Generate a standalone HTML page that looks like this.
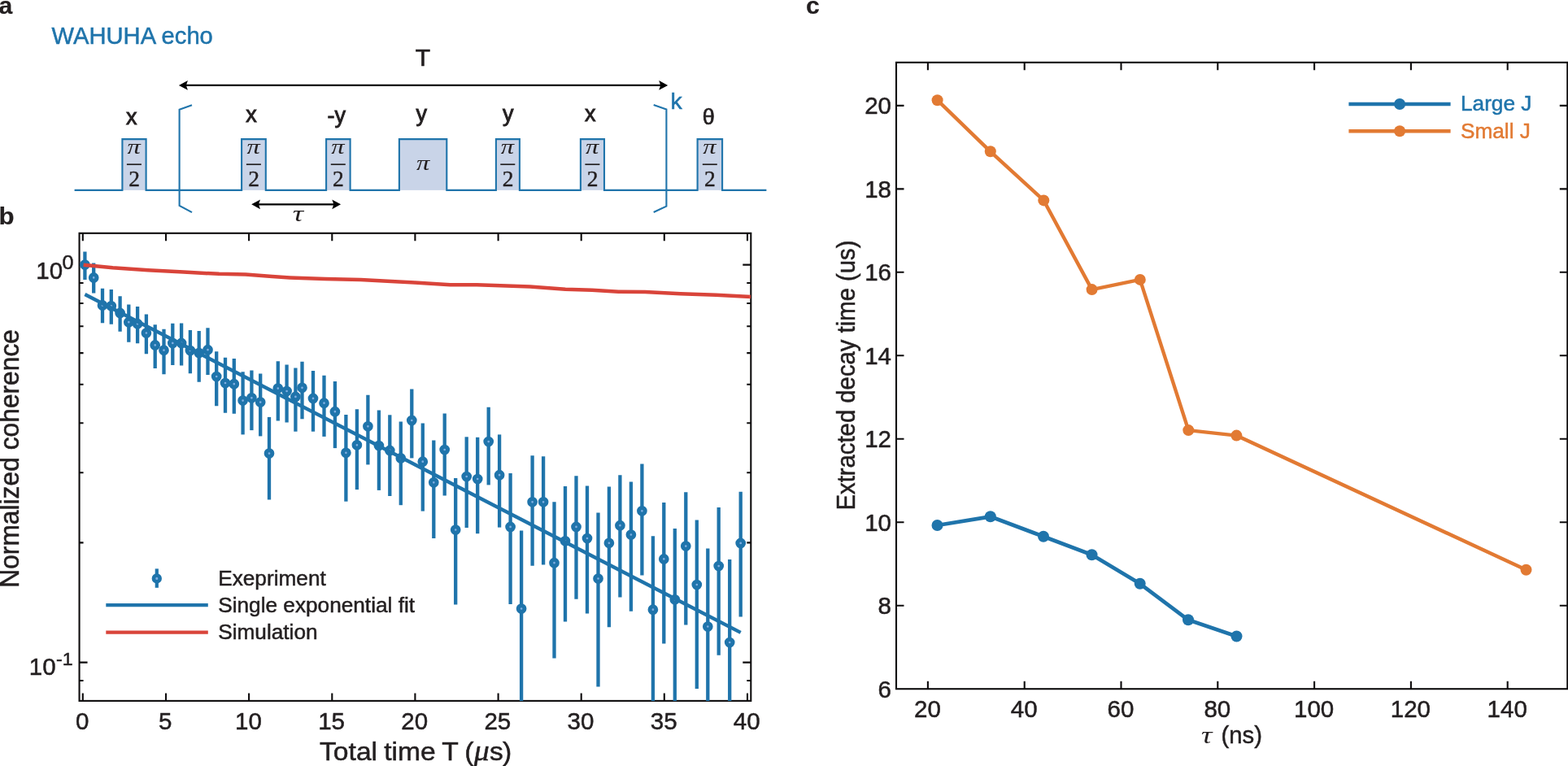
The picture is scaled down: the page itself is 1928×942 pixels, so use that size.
<!DOCTYPE html>
<html lang="en"><head><meta charset="utf-8"><title>WAHUHA echo</title>
<style>
html,body{margin:0;padding:0;background:#fff;}
body{width:1928px;height:942px;overflow:hidden;font-family:"Liberation Sans",Arial,Helvetica,sans-serif;}
svg{display:block;}
text{white-space:pre;}
</style></head><body>
<svg width="1928" height="942" viewBox="0 0 1928 942">
<rect width="1928" height="942" fill="#fff"/>
<g id="panel-a">
<text transform="translate(-1.60 16.50) scale(1.0400 1.0000)" font-family="Liberation Sans, Arial, Helvetica, sans-serif" font-size="29" font-weight="bold" fill="#231f20" stroke="#231f20" stroke-width="0.2" >a</text>
<text transform="translate(63.60 54.00) scale(1.0200 1.0000)" font-family="Liberation Sans, Arial, Helvetica, sans-serif" font-size="28.6" fill="#1f74ab" stroke="#1f74ab" stroke-width="0.5" >WAHUHA echo</text>
<rect x="150.4" y="171.1" width="29.2" height="62.8" fill="#c9d4e8"/>
<rect x="297.1" y="171.1" width="29.7" height="62.8" fill="#c9d4e8"/>
<rect x="401.1" y="171.1" width="29.5" height="62.8" fill="#c9d4e8"/>
<rect x="490.9" y="171.1" width="58.4" height="62.8" fill="#c9d4e8"/>
<rect x="609.9" y="171.1" width="29.0" height="62.8" fill="#c9d4e8"/>
<rect x="713.9" y="171.1" width="29.1" height="62.8" fill="#c9d4e8"/>
<rect x="857.6" y="171.1" width="30.5" height="62.8" fill="#c9d4e8"/>
<path d="M91.6 233.9 H150.4 V171.1 H179.6 V233.9 H297.1 V171.1 H326.8 V233.9 H401.1 V171.1 H430.6 V233.9 H490.9 V171.1 H549.3 V233.9 H609.9 V171.1 H638.9 V233.9 H713.9 V171.1 H743.0 V233.9 H857.6 V171.1 H888.1 V233.9 H942.4" fill="none" stroke="#1f74ab" stroke-width="2.1" stroke-linejoin="miter"/>
<path d="M236 129.2 L220.6 134.8 V252.9 L236 261.1" fill="none" stroke="#1f74ab" stroke-width="2.1"/>
<path d="M803.7 128.9 L819.4 134.6 V253.6 L803.7 261" fill="none" stroke="#1f74ab" stroke-width="2.1"/>
<text transform="translate(824.60 133.80)" font-family="Liberation Sans, Arial, Helvetica, sans-serif" font-size="28.5" fill="#1f74ab" stroke="#1f74ab" stroke-width="0.5" >k</text>
<text transform="translate(164.60 189.00) scale(1.2600 1.0000)" font-family="Liberation Serif, Times New Roman, serif" font-size="25.8" text-anchor="middle" font-style="italic" fill="#231f20" stroke="#231f20" stroke-width="0" >π</text>
<line x1="155.9" y1="202.2" x2="173.9" y2="202.2" stroke="#231f20" stroke-width="1.7"/>
<text transform="translate(165.10 229.40)" font-family="Liberation Serif, Times New Roman, serif" font-size="27.5" text-anchor="middle" fill="#231f20" stroke="#231f20" stroke-width="0.45" >2</text>
<text transform="translate(311.55 189.00) scale(1.2600 1.0000)" font-family="Liberation Serif, Times New Roman, serif" font-size="25.8" text-anchor="middle" font-style="italic" fill="#231f20" stroke="#231f20" stroke-width="0" >π</text>
<line x1="302.9" y1="202.2" x2="320.9" y2="202.2" stroke="#231f20" stroke-width="1.7"/>
<text transform="translate(312.05 229.40)" font-family="Liberation Serif, Times New Roman, serif" font-size="27.5" text-anchor="middle" fill="#231f20" stroke="#231f20" stroke-width="0.45" >2</text>
<text transform="translate(415.45 189.00) scale(1.2600 1.0000)" font-family="Liberation Serif, Times New Roman, serif" font-size="25.8" text-anchor="middle" font-style="italic" fill="#231f20" stroke="#231f20" stroke-width="0" >π</text>
<line x1="406.8" y1="202.2" x2="424.8" y2="202.2" stroke="#231f20" stroke-width="1.7"/>
<text transform="translate(415.95 229.40)" font-family="Liberation Serif, Times New Roman, serif" font-size="27.5" text-anchor="middle" fill="#231f20" stroke="#231f20" stroke-width="0.45" >2</text>
<text transform="translate(520.10 208.70) scale(1.2600 1.0000)" font-family="Liberation Serif, Times New Roman, serif" font-size="25.8" text-anchor="middle" font-style="italic" fill="#231f20" stroke="#231f20" stroke-width="0" >π</text>
<text transform="translate(624.00 189.00) scale(1.2600 1.0000)" font-family="Liberation Serif, Times New Roman, serif" font-size="25.8" text-anchor="middle" font-style="italic" fill="#231f20" stroke="#231f20" stroke-width="0" >π</text>
<line x1="615.3" y1="202.2" x2="633.3" y2="202.2" stroke="#231f20" stroke-width="1.7"/>
<text transform="translate(624.50 229.40)" font-family="Liberation Serif, Times New Roman, serif" font-size="27.5" text-anchor="middle" fill="#231f20" stroke="#231f20" stroke-width="0.45" >2</text>
<text transform="translate(728.05 189.00) scale(1.2600 1.0000)" font-family="Liberation Serif, Times New Roman, serif" font-size="25.8" text-anchor="middle" font-style="italic" fill="#231f20" stroke="#231f20" stroke-width="0" >π</text>
<line x1="719.4" y1="202.2" x2="737.4" y2="202.2" stroke="#231f20" stroke-width="1.7"/>
<text transform="translate(728.55 229.40)" font-family="Liberation Serif, Times New Roman, serif" font-size="27.5" text-anchor="middle" fill="#231f20" stroke="#231f20" stroke-width="0.45" >2</text>
<text transform="translate(872.45 189.00) scale(1.2600 1.0000)" font-family="Liberation Serif, Times New Roman, serif" font-size="25.8" text-anchor="middle" font-style="italic" fill="#231f20" stroke="#231f20" stroke-width="0" >π</text>
<line x1="863.8" y1="202.2" x2="881.8" y2="202.2" stroke="#231f20" stroke-width="1.7"/>
<text transform="translate(872.95 229.40)" font-family="Liberation Serif, Times New Roman, serif" font-size="27.5" text-anchor="middle" fill="#231f20" stroke="#231f20" stroke-width="0.45" >2</text>
<text transform="translate(161.80 153.00)" font-family="Liberation Sans, Arial, Helvetica, sans-serif" font-size="27.0" text-anchor="middle" fill="#231f20" stroke="#231f20" stroke-width="0.9" >x</text>
<text transform="translate(309.00 149.80)" font-family="Liberation Sans, Arial, Helvetica, sans-serif" font-size="27.0" text-anchor="middle" fill="#231f20" stroke="#231f20" stroke-width="0.9" >x</text>
<text transform="translate(413.80 150.50)" font-family="Liberation Sans, Arial, Helvetica, sans-serif" font-size="27.0" text-anchor="middle" fill="#231f20" stroke="#231f20" stroke-width="0.9" >-y</text>
<text transform="translate(518.30 148.50)" font-family="Liberation Sans, Arial, Helvetica, sans-serif" font-size="27.0" text-anchor="middle" fill="#231f20" stroke="#231f20" stroke-width="0.9" >y</text>
<text transform="translate(624.80 148.50)" font-family="Liberation Sans, Arial, Helvetica, sans-serif" font-size="27.0" text-anchor="middle" fill="#231f20" stroke="#231f20" stroke-width="0.9" >y</text>
<text transform="translate(725.80 148.80)" font-family="Liberation Sans, Arial, Helvetica, sans-serif" font-size="27.0" text-anchor="middle" fill="#231f20" stroke="#231f20" stroke-width="0.9" >x</text>
<text transform="translate(871.30 152.90)" font-family="Liberation Sans, Arial, Helvetica, sans-serif" font-size="27" text-anchor="middle" fill="#231f20" stroke="#231f20" stroke-width="0.7" >θ</text>
<text transform="translate(519.90 80.80)" font-family="Liberation Sans, Arial, Helvetica, sans-serif" font-size="30" text-anchor="middle" fill="#231f20" stroke="#231f20" stroke-width="0.7" >T</text>
<line x1="225.9" y1="104.9" x2="815.2" y2="104.9" stroke="#000" stroke-width="2.3"/>
<path d="M219.9 104.9 L230.9 99.0 L228.9 104.9 L230.9 110.80000000000001 Z" fill="#000"/>
<path d="M821.2 104.9 L810.2 99.0 L812.2 104.9 L810.2 110.80000000000001 Z" fill="#000"/>
<line x1="315.2" y1="251.3" x2="413.1" y2="251.3" stroke="#000" stroke-width="2.3"/>
<path d="M309.2 251.3 L320.0 245.4 L318.0 251.3 L320.0 257.2 Z" fill="#000"/>
<path d="M419.1 251.3 L408.3 245.4 L410.3 251.3 L408.3 257.2 Z" fill="#000"/>
<text transform="translate(366.40 271.80) scale(1.3500 1.0000)" font-family="Liberation Serif, Times New Roman, serif" font-size="27.5" text-anchor="middle" font-style="italic" fill="#231f20" stroke="#231f20" stroke-width="0" >τ</text>
</g>
<g id="panel-b">
<text transform="translate(-1.60 275.90) scale(1.0600 1.0000)" font-family="Liberation Sans, Arial, Helvetica, sans-serif" font-size="29.5" font-weight="bold" fill="#231f20" stroke="#231f20" stroke-width="0.2" >b</text>
<rect x="97.55" y="286.8" width="825.75" height="575.0999999999999" fill="none" stroke="#0e0c0d" stroke-width="2.1"/>
<path d="M101.8 861.9 v-9.5 M101.8 286.8 v9.5 M204.0 861.9 v-9.5 M204.0 286.8 v9.5 M306.1 861.9 v-9.5 M306.1 286.8 v9.5 M408.3 861.9 v-9.5 M408.3 286.8 v9.5 M510.4 861.9 v-9.5 M510.4 286.8 v9.5 M612.6 861.9 v-9.5 M612.6 286.8 v9.5 M714.7 861.9 v-9.5 M714.7 286.8 v9.5 M816.8 861.9 v-9.5 M816.8 286.8 v9.5 M919.0 861.9 v-9.5 M919.0 286.8 v9.5 M97.55 325.6 h10 M923.3 325.6 h-10 M97.55 814.6 h10 M923.3 814.6 h-10 M97.55 667.4 h5 M923.3 667.4 h-5 M97.55 581.3 h5 M923.3 581.3 h-5 M97.55 520.2 h5 M923.3 520.2 h-5 M97.55 472.8 h5 M923.3 472.8 h-5 M97.55 434.1 h5 M923.3 434.1 h-5 M97.55 401.3 h5 M923.3 401.3 h-5 M97.55 373.0 h5 M923.3 373.0 h-5 M97.55 348.0 h5 M923.3 348.0 h-5 M97.55 837.0 h5 M923.3 837.0 h-5" stroke="#0e0c0d" stroke-width="2.1" fill="none"/>
<clipPath id="clipb"><rect x="97.55" y="286.8" width="825.75" height="575.0999999999999"/></clipPath>
<g clip-path="url(#clipb)">
<line x1="104.4" y1="309.5" x2="104.4" y2="343.9" stroke="#1f74ab" stroke-width="4.3"/>
<line x1="115.2" y1="323.5" x2="115.2" y2="360.5" stroke="#1f74ab" stroke-width="4.3"/>
<line x1="126.0" y1="354.7" x2="126.0" y2="397.3" stroke="#1f74ab" stroke-width="4.3"/>
<line x1="136.8" y1="356.0" x2="136.8" y2="398.8" stroke="#1f74ab" stroke-width="4.3"/>
<line x1="147.6" y1="364.3" x2="147.6" y2="407.8" stroke="#1f74ab" stroke-width="4.3"/>
<line x1="158.3" y1="374.6" x2="158.3" y2="420.7" stroke="#1f74ab" stroke-width="4.3"/>
<line x1="169.1" y1="377.1" x2="169.1" y2="422.2" stroke="#1f74ab" stroke-width="4.3"/>
<line x1="179.9" y1="386.6" x2="179.9" y2="435.2" stroke="#1f74ab" stroke-width="4.3"/>
<line x1="190.7" y1="399.2" x2="190.7" y2="453.0" stroke="#1f74ab" stroke-width="4.3"/>
<line x1="201.5" y1="404.8" x2="201.5" y2="460.2" stroke="#1f74ab" stroke-width="4.3"/>
<line x1="212.3" y1="397.8" x2="212.3" y2="449.1" stroke="#1f74ab" stroke-width="4.3"/>
<line x1="223.1" y1="397.5" x2="223.1" y2="449.5" stroke="#1f74ab" stroke-width="4.3"/>
<line x1="233.9" y1="406.1" x2="233.9" y2="459.2" stroke="#1f74ab" stroke-width="4.3"/>
<line x1="244.7" y1="406.9" x2="244.7" y2="469.7" stroke="#1f74ab" stroke-width="4.3"/>
<line x1="255.5" y1="403.3" x2="255.5" y2="461.0" stroke="#1f74ab" stroke-width="4.3"/>
<line x1="266.2" y1="432.3" x2="266.2" y2="499.2" stroke="#1f74ab" stroke-width="4.3"/>
<line x1="277.0" y1="439.8" x2="277.0" y2="507.8" stroke="#1f74ab" stroke-width="4.3"/>
<line x1="287.8" y1="441.1" x2="287.8" y2="508.7" stroke="#1f74ab" stroke-width="4.3"/>
<line x1="298.6" y1="457.2" x2="298.6" y2="534.4" stroke="#1f74ab" stroke-width="4.3"/>
<line x1="309.4" y1="455.6" x2="309.4" y2="529.1" stroke="#1f74ab" stroke-width="4.3"/>
<line x1="320.2" y1="459.4" x2="320.2" y2="536.4" stroke="#1f74ab" stroke-width="4.3"/>
<line x1="331.0" y1="512.9" x2="331.0" y2="614.5" stroke="#1f74ab" stroke-width="4.3"/>
<line x1="341.8" y1="444.3" x2="341.8" y2="517.5" stroke="#1f74ab" stroke-width="4.3"/>
<line x1="352.6" y1="448.4" x2="352.6" y2="519.5" stroke="#1f74ab" stroke-width="4.3"/>
<line x1="363.4" y1="452.4" x2="363.4" y2="530.7" stroke="#1f74ab" stroke-width="4.3"/>
<line x1="371.5" y1="444.8" x2="371.5" y2="515.3" stroke="#1f74ab" stroke-width="4.3"/>
<line x1="385.0" y1="456.1" x2="385.0" y2="530.7" stroke="#1f74ab" stroke-width="4.3"/>
<line x1="398.5" y1="461.7" x2="398.5" y2="536.9" stroke="#1f74ab" stroke-width="4.3"/>
<line x1="411.9" y1="469.0" x2="411.9" y2="551.1" stroke="#1f74ab" stroke-width="4.3"/>
<line x1="425.4" y1="510.0" x2="425.4" y2="616.7" stroke="#1f74ab" stroke-width="4.3"/>
<line x1="438.9" y1="503.3" x2="438.9" y2="602.1" stroke="#1f74ab" stroke-width="4.3"/>
<line x1="452.4" y1="485.8" x2="452.4" y2="571.4" stroke="#1f74ab" stroke-width="4.3"/>
<line x1="465.9" y1="504.5" x2="465.9" y2="602.9" stroke="#1f74ab" stroke-width="4.3"/>
<line x1="479.3" y1="510.3" x2="479.3" y2="610.0" stroke="#1f74ab" stroke-width="4.3"/>
<line x1="492.8" y1="518.5" x2="492.8" y2="621.2" stroke="#1f74ab" stroke-width="4.3"/>
<line x1="506.3" y1="478.6" x2="506.3" y2="563.4" stroke="#1f74ab" stroke-width="4.3"/>
<line x1="519.8" y1="520.5" x2="519.8" y2="628.6" stroke="#1f74ab" stroke-width="4.3"/>
<line x1="533.3" y1="541.5" x2="533.3" y2="662.0" stroke="#1f74ab" stroke-width="4.3"/>
<line x1="546.7" y1="508.6" x2="546.7" y2="609.5" stroke="#1f74ab" stroke-width="4.3"/>
<line x1="560.2" y1="588.0" x2="560.2" y2="743.5" stroke="#1f74ab" stroke-width="4.3"/>
<line x1="573.7" y1="537.3" x2="573.7" y2="649.0" stroke="#1f74ab" stroke-width="4.3"/>
<line x1="587.2" y1="537.8" x2="587.2" y2="656.2" stroke="#1f74ab" stroke-width="4.3"/>
<line x1="600.7" y1="500.8" x2="600.7" y2="596.4" stroke="#1f74ab" stroke-width="4.3"/>
<line x1="614.1" y1="534.4" x2="614.1" y2="648.6" stroke="#1f74ab" stroke-width="4.3"/>
<line x1="627.6" y1="582.0" x2="627.6" y2="743.1" stroke="#1f74ab" stroke-width="4.3"/>
<line x1="641.1" y1="652.4" x2="641.1" y2="928.9" stroke="#1f74ab" stroke-width="4.3"/>
<line x1="654.6" y1="560.2" x2="654.6" y2="695.8" stroke="#1f74ab" stroke-width="4.3"/>
<line x1="668.1" y1="561.2" x2="668.1" y2="694.4" stroke="#1f74ab" stroke-width="4.3"/>
<line x1="681.5" y1="617.2" x2="681.5" y2="809.5" stroke="#1f74ab" stroke-width="4.3"/>
<line x1="695.0" y1="598.1" x2="695.0" y2="764.6" stroke="#1f74ab" stroke-width="4.3"/>
<line x1="708.5" y1="585.3" x2="708.5" y2="736.8" stroke="#1f74ab" stroke-width="4.3"/>
<line x1="722.0" y1="597.6" x2="722.0" y2="754.4" stroke="#1f74ab" stroke-width="4.3"/>
<line x1="735.5" y1="630.5" x2="735.5" y2="844.6" stroke="#1f74ab" stroke-width="4.3"/>
<line x1="748.9" y1="598.4" x2="748.9" y2="771.3" stroke="#1f74ab" stroke-width="4.3"/>
<line x1="762.4" y1="584.3" x2="762.4" y2="734.4" stroke="#1f74ab" stroke-width="4.3"/>
<line x1="775.9" y1="592.4" x2="775.9" y2="751.7" stroke="#1f74ab" stroke-width="4.3"/>
<line x1="789.4" y1="570.4" x2="789.4" y2="707.4" stroke="#1f74ab" stroke-width="4.3"/>
<line x1="802.9" y1="659.2" x2="802.9" y2="910.7" stroke="#1f74ab" stroke-width="4.3"/>
<line x1="816.3" y1="618.0" x2="816.3" y2="791.6" stroke="#1f74ab" stroke-width="4.3"/>
<line x1="829.8" y1="650.1" x2="829.8" y2="887.8" stroke="#1f74ab" stroke-width="4.3"/>
<line x1="843.3" y1="605.2" x2="843.3" y2="768.5" stroke="#1f74ab" stroke-width="4.3"/>
<line x1="856.8" y1="639.6" x2="856.8" y2="847.1" stroke="#1f74ab" stroke-width="4.3"/>
<line x1="870.3" y1="674.4" x2="870.3" y2="950.9" stroke="#1f74ab" stroke-width="4.3"/>
<line x1="883.7" y1="624.0" x2="883.7" y2="805.7" stroke="#1f74ab" stroke-width="4.3"/>
<line x1="897.2" y1="688.0" x2="897.2" y2="993.6" stroke="#1f74ab" stroke-width="4.3"/>
<line x1="910.7" y1="604.8" x2="910.7" y2="758.5" stroke="#1f74ab" stroke-width="4.3"/>
<circle cx="104.4" cy="325.6" r="3.85" fill="#7faee2" stroke="#1f74ab" stroke-width="5.0"/>
<circle cx="115.2" cy="341.4" r="3.85" fill="#7faee2" stroke="#1f74ab" stroke-width="5.0"/>
<circle cx="126.0" cy="375.4" r="3.85" fill="#7faee2" stroke="#1f74ab" stroke-width="5.0"/>
<circle cx="136.8" cy="376.3" r="3.85" fill="#7faee2" stroke="#1f74ab" stroke-width="5.0"/>
<circle cx="147.6" cy="384.9" r="3.85" fill="#7faee2" stroke="#1f74ab" stroke-width="5.0"/>
<circle cx="158.3" cy="396.2" r="3.85" fill="#7faee2" stroke="#1f74ab" stroke-width="5.0"/>
<circle cx="169.1" cy="398.2" r="3.85" fill="#7faee2" stroke="#1f74ab" stroke-width="5.0"/>
<circle cx="179.9" cy="409.5" r="3.85" fill="#7faee2" stroke="#1f74ab" stroke-width="5.0"/>
<circle cx="190.7" cy="424.4" r="3.85" fill="#7faee2" stroke="#1f74ab" stroke-width="5.0"/>
<circle cx="201.5" cy="430.7" r="3.85" fill="#7faee2" stroke="#1f74ab" stroke-width="5.0"/>
<circle cx="212.3" cy="421.9" r="3.85" fill="#7faee2" stroke="#1f74ab" stroke-width="5.0"/>
<circle cx="223.1" cy="421.9" r="3.85" fill="#7faee2" stroke="#1f74ab" stroke-width="5.0"/>
<circle cx="233.9" cy="431.0" r="3.85" fill="#7faee2" stroke="#1f74ab" stroke-width="5.0"/>
<circle cx="244.7" cy="434.0" r="3.85" fill="#7faee2" stroke="#1f74ab" stroke-width="5.0"/>
<circle cx="255.5" cy="430.2" r="3.85" fill="#7faee2" stroke="#1f74ab" stroke-width="5.0"/>
<circle cx="266.2" cy="463.0" r="3.85" fill="#7faee2" stroke="#1f74ab" stroke-width="5.0"/>
<circle cx="277.0" cy="471.0" r="3.85" fill="#7faee2" stroke="#1f74ab" stroke-width="5.0"/>
<circle cx="287.8" cy="472.2" r="3.85" fill="#7faee2" stroke="#1f74ab" stroke-width="5.0"/>
<circle cx="298.6" cy="492.6" r="3.85" fill="#7faee2" stroke="#1f74ab" stroke-width="5.0"/>
<circle cx="309.4" cy="489.3" r="3.85" fill="#7faee2" stroke="#1f74ab" stroke-width="5.0"/>
<circle cx="320.2" cy="494.6" r="3.85" fill="#7faee2" stroke="#1f74ab" stroke-width="5.0"/>
<circle cx="331.0" cy="557.6" r="3.85" fill="#7faee2" stroke="#1f74ab" stroke-width="5.0"/>
<circle cx="341.8" cy="477.6" r="3.85" fill="#7faee2" stroke="#1f74ab" stroke-width="5.0"/>
<circle cx="352.6" cy="481.0" r="3.85" fill="#7faee2" stroke="#1f74ab" stroke-width="5.0"/>
<circle cx="363.4" cy="487.9" r="3.85" fill="#7faee2" stroke="#1f74ab" stroke-width="5.0"/>
<circle cx="371.5" cy="476.8" r="3.85" fill="#7faee2" stroke="#1f74ab" stroke-width="5.0"/>
<circle cx="385.0" cy="489.9" r="3.85" fill="#7faee2" stroke="#1f74ab" stroke-width="5.0"/>
<circle cx="398.5" cy="495.7" r="3.85" fill="#7faee2" stroke="#1f74ab" stroke-width="5.0"/>
<circle cx="411.9" cy="506.2" r="3.85" fill="#7faee2" stroke="#1f74ab" stroke-width="5.0"/>
<circle cx="425.4" cy="556.8" r="3.85" fill="#7faee2" stroke="#1f74ab" stroke-width="5.0"/>
<circle cx="438.9" cy="547.3" r="3.85" fill="#7faee2" stroke="#1f74ab" stroke-width="5.0"/>
<circle cx="452.4" cy="524.3" r="3.85" fill="#7faee2" stroke="#1f74ab" stroke-width="5.0"/>
<circle cx="465.9" cy="548.1" r="3.85" fill="#7faee2" stroke="#1f74ab" stroke-width="5.0"/>
<circle cx="479.3" cy="553.9" r="3.85" fill="#7faee2" stroke="#1f74ab" stroke-width="5.0"/>
<circle cx="492.8" cy="563.4" r="3.85" fill="#7faee2" stroke="#1f74ab" stroke-width="5.0"/>
<circle cx="506.3" cy="517.0" r="3.85" fill="#7faee2" stroke="#1f74ab" stroke-width="5.0"/>
<circle cx="519.8" cy="567.7" r="3.85" fill="#7faee2" stroke="#1f74ab" stroke-width="5.0"/>
<circle cx="533.3" cy="593.3" r="3.85" fill="#7faee2" stroke="#1f74ab" stroke-width="5.0"/>
<circle cx="546.7" cy="553.0" r="3.85" fill="#7faee2" stroke="#1f74ab" stroke-width="5.0"/>
<circle cx="560.2" cy="651.5" r="3.85" fill="#7faee2" stroke="#1f74ab" stroke-width="5.0"/>
<circle cx="573.7" cy="586.0" r="3.85" fill="#7faee2" stroke="#1f74ab" stroke-width="5.0"/>
<circle cx="587.2" cy="589.0" r="3.85" fill="#7faee2" stroke="#1f74ab" stroke-width="5.0"/>
<circle cx="600.7" cy="543.1" r="3.85" fill="#7faee2" stroke="#1f74ab" stroke-width="5.0"/>
<circle cx="614.1" cy="584.2" r="3.85" fill="#7faee2" stroke="#1f74ab" stroke-width="5.0"/>
<circle cx="627.6" cy="647.9" r="3.85" fill="#7faee2" stroke="#1f74ab" stroke-width="5.0"/>
<circle cx="641.1" cy="748.5" r="3.85" fill="#7faee2" stroke="#1f74ab" stroke-width="5.0"/>
<circle cx="654.6" cy="617.3" r="3.85" fill="#7faee2" stroke="#1f74ab" stroke-width="5.0"/>
<circle cx="668.1" cy="617.3" r="3.85" fill="#7faee2" stroke="#1f74ab" stroke-width="5.0"/>
<circle cx="681.5" cy="692.2" r="3.85" fill="#7faee2" stroke="#1f74ab" stroke-width="5.0"/>
<circle cx="695.0" cy="665.3" r="3.85" fill="#7faee2" stroke="#1f74ab" stroke-width="5.0"/>
<circle cx="708.5" cy="647.9" r="3.85" fill="#7faee2" stroke="#1f74ab" stroke-width="5.0"/>
<circle cx="722.0" cy="662.0" r="3.85" fill="#7faee2" stroke="#1f74ab" stroke-width="5.0"/>
<circle cx="735.5" cy="711.5" r="3.85" fill="#7faee2" stroke="#1f74ab" stroke-width="5.0"/>
<circle cx="748.9" cy="667.8" r="3.85" fill="#7faee2" stroke="#1f74ab" stroke-width="5.0"/>
<circle cx="762.4" cy="646.2" r="3.85" fill="#7faee2" stroke="#1f74ab" stroke-width="5.0"/>
<circle cx="775.9" cy="657.5" r="3.85" fill="#7faee2" stroke="#1f74ab" stroke-width="5.0"/>
<circle cx="789.4" cy="628.3" r="3.85" fill="#7faee2" stroke="#1f74ab" stroke-width="5.0"/>
<circle cx="802.9" cy="749.7" r="3.85" fill="#7faee2" stroke="#1f74ab" stroke-width="5.0"/>
<circle cx="816.3" cy="687.4" r="3.85" fill="#7faee2" stroke="#1f74ab" stroke-width="5.0"/>
<circle cx="829.8" cy="737.3" r="3.85" fill="#7faee2" stroke="#1f74ab" stroke-width="5.0"/>
<circle cx="843.3" cy="671.6" r="3.85" fill="#7faee2" stroke="#1f74ab" stroke-width="5.0"/>
<circle cx="856.8" cy="719.0" r="3.85" fill="#7faee2" stroke="#1f74ab" stroke-width="5.0"/>
<circle cx="870.3" cy="770.5" r="3.85" fill="#7faee2" stroke="#1f74ab" stroke-width="5.0"/>
<circle cx="883.7" cy="696.1" r="3.85" fill="#7faee2" stroke="#1f74ab" stroke-width="5.0"/>
<circle cx="897.2" cy="790.0" r="3.85" fill="#7faee2" stroke="#1f74ab" stroke-width="5.0"/>
<circle cx="910.7" cy="667.9" r="3.85" fill="#7faee2" stroke="#1f74ab" stroke-width="5.0"/>
<line x1="104.4" y1="362.0" x2="910.7" y2="777.9" stroke="#1f74ab" stroke-width="4.4"/>
<polyline points="102.6,325.7 138.6,329.2 182.1,332.2 225.7,334.6 269.3,336.8 302,337.6 334.7,340.1 356.4,341.4 400,343.1 443.6,344.1 476.3,345.7 510,347.5 553.6,350.2 586.3,350.2 651.6,352.5 695.2,355.7 727.9,356.8 760.5,358.7 793.2,358.9 836.8,361.2 880.4,362.7 923.3,364.9" fill="none" stroke="#d9443a" stroke-width="4.5" stroke-linejoin="round"/>
</g>
<text transform="translate(101.15 897.20) scale(1.0250 1.0000)" font-family="Liberation Sans, Arial, Helvetica, sans-serif" font-size="28.8" text-anchor="middle" fill="#231f20" stroke="#231f20" stroke-width="0.5" >0</text>
<text transform="translate(203.29 897.20) scale(1.0250 1.0000)" font-family="Liberation Sans, Arial, Helvetica, sans-serif" font-size="28.8" text-anchor="middle" fill="#231f20" stroke="#231f20" stroke-width="0.5" >5</text>
<text transform="translate(305.43 897.20) scale(1.0250 1.0000)" font-family="Liberation Sans, Arial, Helvetica, sans-serif" font-size="28.8" text-anchor="middle" fill="#231f20" stroke="#231f20" stroke-width="0.5" >10</text>
<text transform="translate(407.57 897.20) scale(1.0250 1.0000)" font-family="Liberation Sans, Arial, Helvetica, sans-serif" font-size="28.8" text-anchor="middle" fill="#231f20" stroke="#231f20" stroke-width="0.5" >15</text>
<text transform="translate(509.71 897.20) scale(1.0250 1.0000)" font-family="Liberation Sans, Arial, Helvetica, sans-serif" font-size="28.8" text-anchor="middle" fill="#231f20" stroke="#231f20" stroke-width="0.5" >20</text>
<text transform="translate(611.85 897.20) scale(1.0250 1.0000)" font-family="Liberation Sans, Arial, Helvetica, sans-serif" font-size="28.8" text-anchor="middle" fill="#231f20" stroke="#231f20" stroke-width="0.5" >25</text>
<text transform="translate(713.99 897.20) scale(1.0250 1.0000)" font-family="Liberation Sans, Arial, Helvetica, sans-serif" font-size="28.8" text-anchor="middle" fill="#231f20" stroke="#231f20" stroke-width="0.5" >30</text>
<text transform="translate(816.13 897.20) scale(1.0250 1.0000)" font-family="Liberation Sans, Arial, Helvetica, sans-serif" font-size="28.8" text-anchor="middle" fill="#231f20" stroke="#231f20" stroke-width="0.5" >35</text>
<text transform="translate(918.27 897.20) scale(1.0250 1.0000)" font-family="Liberation Sans, Arial, Helvetica, sans-serif" font-size="28.8" text-anchor="middle" fill="#231f20" stroke="#231f20" stroke-width="0.5" >40</text>
<text transform="translate(44.30 342.50) scale(1.0250 1.0000)" font-family="Liberation Sans, Arial, Helvetica, sans-serif" font-size="28.8" fill="#231f20" stroke="#231f20" stroke-width="0.5" >10<tspan dy="-11.3" dx="-0.7" font-size="24.6">0</tspan></text>
<text transform="translate(35.80 830.20) scale(1.0250 1.0000)" font-family="Liberation Sans, Arial, Helvetica, sans-serif" font-size="28.8" fill="#231f20" stroke="#231f20" stroke-width="0.5" >10<tspan dy="-12.4" dx="0.4" font-size="22.6">-1</tspan></text>
<text transform="translate(393.00 934.50) scale(1.0520 1.0000)" font-family="Liberation Sans, Arial, Helvetica, sans-serif" font-size="32.0" fill="#231f20" stroke="#231f20" stroke-width="0.5" word-spacing="-1.2">Total time T (<tspan font-family="Liberation Serif, serif" font-style="italic" font-size="36" dx="0.2">μ</tspan><tspan dx="0.4">s</tspan><tspan dx="-0.8">)</tspan></text>
<text transform="translate(23.20 563.90) rotate(-90) scale(1.0120 1.0700)" font-family="Liberation Sans, Arial, Helvetica, sans-serif" font-size="31.4" text-anchor="middle" fill="#231f20" stroke="#231f20" stroke-width="0.5" >Normalized coherence</text>
<line x1="192.8" y1="699.4" x2="192.8" y2="722.8" stroke="#1f74ab" stroke-width="4.2"/>
<circle cx="192.8" cy="711.4" r="3.85" fill="#7faee2" stroke="#1f74ab" stroke-width="4.6"/>
<line x1="130.3" y1="744.2" x2="255.8" y2="744.2" stroke="#1f74ab" stroke-width="4.3"/>
<line x1="130.3" y1="777.6" x2="255.8" y2="777.6" stroke="#d9443a" stroke-width="4.3"/>
<text transform="translate(268.20 719.60) scale(1.0160 1.0000)" font-family="Liberation Sans, Arial, Helvetica, sans-serif" font-size="25.8" fill="#231f20" stroke="#231f20" stroke-width="0.5" >Exepriment</text>
<text transform="translate(268.20 753.00) scale(1.0160 1.0000)" font-family="Liberation Sans, Arial, Helvetica, sans-serif" font-size="25.8" fill="#231f20" stroke="#231f20" stroke-width="0.5" >Single exponential fit</text>
<text transform="translate(268.20 786.10) scale(1.0160 1.0000)" font-family="Liberation Sans, Arial, Helvetica, sans-serif" font-size="25.8" fill="#231f20" stroke="#231f20" stroke-width="0.5" >Simulation</text>
</g>
<g id="panel-c">
<text transform="translate(991.00 16.60) scale(1.0400 1.0000)" font-family="Liberation Sans, Arial, Helvetica, sans-serif" font-size="29" font-weight="bold" fill="#231f20" stroke="#231f20" stroke-width="0.2" >c</text>
<rect x="1102.0" y="76.8" width="825.3" height="770.4000000000001" fill="none" stroke="#0e0c0d" stroke-width="2.1"/>
<path d="M1140.9 847.2 v-9.5 M1140.9 76.8 v9.5 M1259.7 847.2 v-9.5 M1259.7 76.8 v9.5 M1378.5 847.2 v-9.5 M1378.5 76.8 v9.5 M1497.3 847.2 v-9.5 M1497.3 76.8 v9.5 M1616.1 847.2 v-9.5 M1616.1 76.8 v9.5 M1734.9 847.2 v-9.5 M1734.9 76.8 v9.5 M1853.7 847.2 v-9.5 M1853.7 76.8 v9.5 M1102.0 744.7 h9.5 M1927.3 744.7 h-9.5 M1102.0 642.2 h9.5 M1927.3 642.2 h-9.5 M1102.0 539.8 h9.5 M1927.3 539.8 h-9.5 M1102.0 437.3 h9.5 M1927.3 437.3 h-9.5 M1102.0 334.8 h9.5 M1927.3 334.8 h-9.5 M1102.0 232.4 h9.5 M1927.3 232.4 h-9.5 M1102.0 129.9 h9.5 M1927.3 129.9 h-9.5" stroke="#0e0c0d" stroke-width="2.1" fill="none"/>
<polyline points="1152.6,123.2 1217.8,186.3 1283.3,246.4 1342.6,356.1 1401.8,343.9 1461.3,529.1 1520.4,535.6 1876.5,700.7" fill="none" stroke="#e27a33" stroke-width="4.4" stroke-linejoin="round"/>
<circle cx="1152.6" cy="123.2" r="7" fill="#e27a33"/>
<circle cx="1217.8" cy="186.3" r="7" fill="#e27a33"/>
<circle cx="1283.3" cy="246.4" r="7" fill="#e27a33"/>
<circle cx="1342.6" cy="356.1" r="7" fill="#e27a33"/>
<circle cx="1401.8" cy="343.9" r="7" fill="#e27a33"/>
<circle cx="1461.3" cy="529.1" r="7" fill="#e27a33"/>
<circle cx="1520.4" cy="535.6" r="7" fill="#e27a33"/>
<circle cx="1876.5" cy="700.7" r="7" fill="#e27a33"/>
<polyline points="1152.5,646.0 1217.8,635.3 1283.0,659.7 1342.5,682.2 1401.7,717.8 1461.0,762.3 1520.5,782.5" fill="none" stroke="#1f74ab" stroke-width="4.8" stroke-linejoin="round"/>
<circle cx="1152.5" cy="646.0" r="7" fill="#1f74ab"/>
<circle cx="1217.8" cy="635.3" r="7" fill="#1f74ab"/>
<circle cx="1283.0" cy="659.7" r="7" fill="#1f74ab"/>
<circle cx="1342.5" cy="682.2" r="7" fill="#1f74ab"/>
<circle cx="1401.7" cy="717.8" r="7" fill="#1f74ab"/>
<circle cx="1461.0" cy="762.3" r="7" fill="#1f74ab"/>
<circle cx="1520.5" cy="782.5" r="7" fill="#1f74ab"/>
<text transform="translate(1140.40 882.30) scale(1.0250 1.0000)" font-family="Liberation Sans, Arial, Helvetica, sans-serif" font-size="28.8" text-anchor="middle" fill="#231f20" stroke="#231f20" stroke-width="0.5" >20</text>
<text transform="translate(1259.20 882.30) scale(1.0250 1.0000)" font-family="Liberation Sans, Arial, Helvetica, sans-serif" font-size="28.8" text-anchor="middle" fill="#231f20" stroke="#231f20" stroke-width="0.5" >40</text>
<text transform="translate(1378.00 882.30) scale(1.0250 1.0000)" font-family="Liberation Sans, Arial, Helvetica, sans-serif" font-size="28.8" text-anchor="middle" fill="#231f20" stroke="#231f20" stroke-width="0.5" >60</text>
<text transform="translate(1496.80 882.30) scale(1.0250 1.0000)" font-family="Liberation Sans, Arial, Helvetica, sans-serif" font-size="28.8" text-anchor="middle" fill="#231f20" stroke="#231f20" stroke-width="0.5" >80</text>
<text transform="translate(1615.60 882.30) scale(1.0250 1.0000)" font-family="Liberation Sans, Arial, Helvetica, sans-serif" font-size="28.8" text-anchor="middle" fill="#231f20" stroke="#231f20" stroke-width="0.5" >100</text>
<text transform="translate(1734.40 882.30) scale(1.0250 1.0000)" font-family="Liberation Sans, Arial, Helvetica, sans-serif" font-size="28.8" text-anchor="middle" fill="#231f20" stroke="#231f20" stroke-width="0.5" >120</text>
<text transform="translate(1853.20 882.30) scale(1.0250 1.0000)" font-family="Liberation Sans, Arial, Helvetica, sans-serif" font-size="28.8" text-anchor="middle" fill="#231f20" stroke="#231f20" stroke-width="0.5" >140</text>
<text transform="translate(1096.00 857.59) scale(1.0250 1.0000)" font-family="Liberation Sans, Arial, Helvetica, sans-serif" font-size="28.8" text-anchor="end" fill="#231f20" stroke="#231f20" stroke-width="0.5" >6</text>
<text transform="translate(1096.00 755.12) scale(1.0250 1.0000)" font-family="Liberation Sans, Arial, Helvetica, sans-serif" font-size="28.8" text-anchor="end" fill="#231f20" stroke="#231f20" stroke-width="0.5" >8</text>
<text transform="translate(1096.00 652.65) scale(1.0250 1.0000)" font-family="Liberation Sans, Arial, Helvetica, sans-serif" font-size="28.8" text-anchor="end" fill="#231f20" stroke="#231f20" stroke-width="0.5" >10</text>
<text transform="translate(1096.00 550.18) scale(1.0250 1.0000)" font-family="Liberation Sans, Arial, Helvetica, sans-serif" font-size="28.8" text-anchor="end" fill="#231f20" stroke="#231f20" stroke-width="0.5" >12</text>
<text transform="translate(1096.00 447.71) scale(1.0250 1.0000)" font-family="Liberation Sans, Arial, Helvetica, sans-serif" font-size="28.8" text-anchor="end" fill="#231f20" stroke="#231f20" stroke-width="0.5" >14</text>
<text transform="translate(1096.00 345.24) scale(1.0250 1.0000)" font-family="Liberation Sans, Arial, Helvetica, sans-serif" font-size="28.8" text-anchor="end" fill="#231f20" stroke="#231f20" stroke-width="0.5" >16</text>
<text transform="translate(1096.00 242.77) scale(1.0250 1.0000)" font-family="Liberation Sans, Arial, Helvetica, sans-serif" font-size="28.8" text-anchor="end" fill="#231f20" stroke="#231f20" stroke-width="0.5" >18</text>
<text transform="translate(1096.00 140.30) scale(1.0250 1.0000)" font-family="Liberation Sans, Arial, Helvetica, sans-serif" font-size="28.8" text-anchor="end" fill="#231f20" stroke="#231f20" stroke-width="0.5" >20</text>
<text transform="translate(1050.50 461.50) rotate(-90) scale(1.0000 1.0700)" font-family="Liberation Sans, Arial, Helvetica, sans-serif" font-size="29.3" text-anchor="middle" fill="#231f20" stroke="#231f20" stroke-width="0.5" >Extracted decay time (us)</text>
<text transform="translate(1477.00 913.80) scale(1.2800 1.0000)" font-family="Liberation Serif, Times New Roman, serif" font-size="29.3" font-style="italic" fill="#231f20" stroke="#231f20" stroke-width="0" >τ</text>
<text transform="translate(1501.50 913.80)" font-family="Liberation Sans, Arial, Helvetica, sans-serif" font-size="29.3" fill="#231f20" stroke="#231f20" stroke-width="0.5" >(ns)</text>
<line x1="1658.4" y1="128.0" x2="1783.6" y2="128.0" stroke="#1f74ab" stroke-width="4.6"/>
<circle cx="1721.1" cy="128.0" r="7" fill="#1f74ab"/>
<line x1="1658.4" y1="161.3" x2="1783.6" y2="161.3" stroke="#e27a33" stroke-width="4.4"/>
<circle cx="1721.1" cy="161.3" r="7" fill="#e27a33"/>
<text transform="translate(1796.00 135.90)" font-family="Liberation Sans, Arial, Helvetica, sans-serif" font-size="26.2" fill="#1f74ab" stroke="#1f74ab" stroke-width="0.5" >Large J</text>
<text transform="translate(1796.00 169.50)" font-family="Liberation Sans, Arial, Helvetica, sans-serif" font-size="26.2" fill="#e27a33" stroke="#e27a33" stroke-width="0.5" >Small J</text>
</g>
</svg>
</body></html>
